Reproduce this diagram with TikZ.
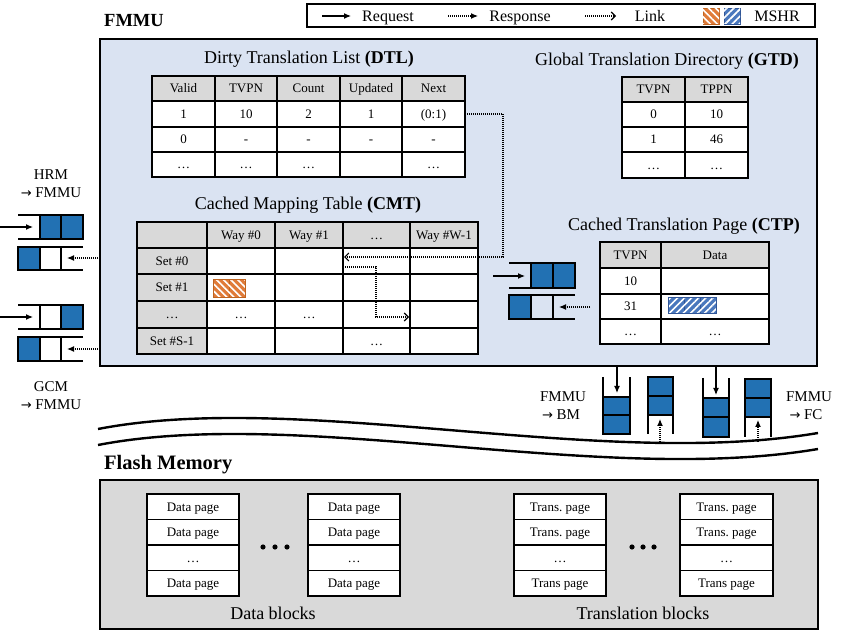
\documentclass[tikz,border=0pt]{standalone}
\usepackage{fontspec}
\setmainfont{Liberation Serif}
\newfontfamily\arrowfont{DejaVu Sans}
\newcommand{\rarr}{{\arrowfont\fontsize{13}{15}\selectfont →}}
\usetikzlibrary{arrows.meta,patterns.meta}
\definecolor{qblue}{HTML}{2271B3}
\definecolor{fmmubg}{HTML}{DAE3F2}
\definecolor{hdrgray}{HTML}{D9D9D9}
\definecolor{mshro}{HTML}{E07B39}
\definecolor{mshroD}{HTML}{C0641F}
\definecolor{mshrb}{HTML}{4A78BD}
\definecolor{mshrbD}{HTML}{2F5597}
\tikzset{
  thinl/.style={line width=1.1pt},
  qline/.style={line width=1.3pt},
  thickl/.style={line width=2.6pt},
  cell/.style={inner sep=0pt, text height=8.6pt, text depth=0pt, font=\fontsize{13}{15}\selectfont},
  ttl/.style={inner sep=0pt, text height=12pt, text depth=0pt, font=\fontsize{18}{20}\selectfont},
  lgd/.style={inner sep=0pt, text height=10.6pt, text depth=0pt, font=\fontsize{16}{18}\selectfont},
  qlbl/.style={inner sep=0pt, text height=10pt, text depth=0pt, font=\fontsize{15}{17}\selectfont},
  bigttl/.style={inner sep=0pt, text height=13pt, text depth=0pt, anchor=west, font=\fontsize{#1}{22}\selectfont\bfseries},
  req/.style={line width=1.1pt, -{Latex[length=7pt,width=6pt]}},
  resp/.style={line width=1.1pt, dash pattern=on 1pt off 1pt, -{Latex[length=7pt,width=6pt]}},
  lnk/.style={line width=1.1pt, dash pattern=on 1pt off 1pt, -{Straight Barb[length=4pt,width=8pt]}},
  hatcho/.style={fill=mshro, draw=mshroD, line width=0.8pt},
  hatchb/.style={fill=mshrb, draw=mshrbD, line width=0.8pt},
  pato/.style={pattern={Lines[angle=-45,distance=5pt,line width=1.6pt]}, pattern color=white},
  patb/.style={pattern={Lines[angle=45,distance=5pt,line width=1.6pt]}, pattern color=white},
}
\begin{document}
\begin{tikzpicture}[x=1pt,y=-1pt]
\useasboundingbox (0,0) rectangle (855,636);
\fill[white] (0,0) rectangle (855,636);

% ---------------- Legend ----------------
\draw[line width=2pt] (307,4) rectangle (815,27);
\coordinate (l1a) at (322,16); \coordinate (l1b) at (351,16);
\draw[req] (l1a) -- (l1b);
\node[lgd] (lreq) at (388,16) {Request};
\coordinate (l2a) at (448,16); \coordinate (l2b) at (478,16);
\draw[resp] (l2a) -- (l2b);
\node[lgd] (lresp) at (520,16) {Response};
\coordinate (l3a) at (585,16); \coordinate (l3b) at (616,16);
\draw[lnk] (l3a) -- (l3b);
\node[lgd] (llink) at (650,16) {Link};
\filldraw[hatcho] (703,8) rectangle (719,24);
\path[pato] (703,8) rectangle (719,24);
\filldraw[hatchb] (724,8) rectangle (740,24);
\path[patb] (724,8) rectangle (740,24);
\node[lgd] (lmshr) at (777,16) {MSHR};

% ---------------- FMMU ----------------
\node[bigttl=18.5] (fmmuttl) at (104,20) {FMMU};
\filldraw[fill=fmmubg, line width=2.6pt] (100,39) rectangle (817,366);

% DTL
\node[ttl] (dtlttl) at (309,58) {Dirty Translation List \textbf{(DTL)}};
\fill[white] (152,76) rectangle (465,177);
\fill[hdrgray] (152,76) rectangle (465,101);
\foreach \x in {215,277,340,402} \draw[thinl] (\x,76) -- (\x,177);
\foreach \y in {101,127,152} \draw[thinl] (152,\y) -- (465,\y);
\draw[thickl] (152,76) rectangle (465,177);
\node[cell] (dtl-h1) at (183.5,88.5) {Valid};
\node[cell] (dtl-h2) at (246,88.5) {TVPN};
\node[cell] (dtl-h3) at (308.5,88.5) {Count};
\node[cell] (dtl-h4) at (371,88.5) {Updated};
\node[cell] (dtl-h5) at (433.5,88.5) {Next};
\node[cell] (dtl-11) at (183.5,114) {1};
\node[cell] (dtl-12) at (246,114) {10};
\node[cell] (dtl-13) at (308.5,114) {2};
\node[cell] (dtl-14) at (371,114) {1};
\node[cell] (dtl-15) at (433.5,114) {(0:1)};
\node[cell] (dtl-21) at (183.5,139.5) {0};
\node[cell] (dtl-22) at (246,139.5) {-};
\node[cell] (dtl-23) at (308.5,139.5) {-};
\node[cell] (dtl-24) at (371,139.5) {-};
\node[cell] (dtl-25) at (433.5,139.5) {-};
\node[cell] (dtl-31) at (183.5,164.5) {…};
\node[cell] (dtl-32) at (246,164.5) {…};
\node[cell] (dtl-33) at (308.5,164.5) {…};
\node[cell] (dtl-35) at (433.5,164.5) {…};
\coordinate (dtlnext) at (465,114);

% GTD
\node[ttl] (gtdttl) at (667,60) {Global Translation Directory \textbf{(GTD)}};
\fill[white] (622,77) rectangle (748,178);
\fill[hdrgray] (622,77) rectangle (748,102);
\draw[thinl] (685,77) -- (685,178);
\foreach \y in {102,127,152} \draw[thinl] (622,\y) -- (748,\y);
\draw[thickl] (622,77) rectangle (748,178);
\node[cell] (gtd-h1) at (653.5,89.5) {TVPN};
\node[cell] (gtd-h2) at (716.5,89.5) {TPPN};
\node[cell] (gtd-11) at (653.5,114.5) {0};
\node[cell] (gtd-12) at (716.5,114.5) {10};
\node[cell] (gtd-21) at (653.5,139.5) {1};
\node[cell] (gtd-22) at (716.5,139.5) {46};
\node[cell] (gtd-31) at (653.5,165) {…};
\node[cell] (gtd-32) at (716.5,165) {…};

% CMT
\node[ttl] (cmtttl) at (308,204) {Cached Mapping Table \textbf{(CMT)}};
\fill[white] (137,222) rectangle (478,354);
\fill[hdrgray] (137,222) rectangle (478,248);
\fill[hdrgray] (137,222) rectangle (207,354);
\foreach \x in {207,275,343,410} \draw[thinl] (\x,222) -- (\x,354);
\foreach \y in {248,274,301,328} \draw[thinl] (137,\y) -- (478,\y);
\draw[thickl] (137,222) rectangle (478,354);
\node[cell] (cmt-h1) at (241,235) {Way \#0};
\node[cell] (cmt-h2) at (309,235) {Way \#1};
\node[cell] (cmt-h3) at (376.5,235) {…};
\node[cell] (cmt-h4) at (444,235) {Way \#W-1};
\node[cell] (cmt-s0) at (172,261) {Set \#0};
\node[cell] (cmt-s1) at (172,287.5) {Set \#1};
\node[cell] (cmt-s2) at (172,314.5) {…};
\node[cell] (cmt-s3) at (172,341) {Set \#S-1};
\node[cell] (cmt-21) at (241,314.5) {…};
\node[cell] (cmt-22) at (309,314.5) {…};
\node[cell] (cmt-33) at (376.5,341) {…};
% orange MSHR
\filldraw[hatcho] (213,279) rectangle (229,297);
\path[pato] (213,279) rectangle (229,297);
\filldraw[hatcho] (229,279) rectangle (245,297);
\path[pato] (229,279) rectangle (245,297);
\draw[mshroD, line width=0.8pt] (213,279) rectangle (245,297);

% CMT internal link
\coordinate (cmtA) at (343,267);
\coordinate (cmtB) at (409,317);
\draw[lnk] (cmtA) -- (376,267) -- (376,317) -- (cmtB);

% DTL -> CMT link
\coordinate (cmtC) at (344,257);
\draw[lnk] (dtlnext) -- (503,114) -- (503,257) -- (cmtC);

% CTP
\node[ttl] (ctpttl) at (684,225) {Cached Translation Page \textbf{(CTP)}};
\fill[white] (600,242) rectangle (769,344);
\fill[hdrgray] (600,242) rectangle (769,268);
\draw[thinl] (661,242) -- (661,344);
\foreach \y in {268,294,319} \draw[thinl] (600,\y) -- (769,\y);
\draw[thickl] (600,242) rectangle (769,344);
\node[cell] (ctp-h1) at (630.5,255) {TVPN};
\node[cell] (ctp-h2) at (715,255) {Data};
\node[cell] (ctp-11) at (630.5,281) {10};
\node[cell] (ctp-21) at (630.5,306.5) {31};
\node[cell] (ctp-31) at (630.5,331.5) {…};
\node[cell] (ctp-32) at (715,331.5) {…};
\foreach \x in {668,684,700} {
  \filldraw[hatchb] (\x,297) rectangle (\x+16,313);
  \path[patb] (\x,297) rectangle (\x+16,313);
}
\draw[mshrbD, line width=0.8pt] (668,297) rectangle (716,313);

% CTP queues
\fill[qblue] (531,263) rectangle (575,288);
\draw[qline] (509,263) -- (575,263) -- (575,288) -- (509,288);
\draw[qline] (531,263) -- (531,288) (553,263) -- (553,288);
\coordinate (cq1a) at (493,276); \coordinate (cq1b) at (525,276);
\draw[req] (cq1a) -- (cq1b);
\fill[qblue] (509,295) rectangle (531,319);
\draw[qline] (575,295) -- (509,295) -- (509,319) -- (575,319);
\draw[qline] (531,295) -- (531,319) (553,295) -- (553,319);
\coordinate (cq2a) at (590,307); \coordinate (cq2b) at (559,307);
\draw[resp] (cq2a) -- (cq2b);

% ---------------- Left queues ----------------
\node[qlbl] (hrm1) at (51,175) {HRM};
\node[qlbl] (hrm2) at (51,193) {\rarr\ FMMU};
\fill[qblue] (40,215) rectangle (83,239);
\draw[qline] (18,215) -- (83,215) -- (83,239) -- (18,239);
\draw[qline] (40,215) -- (40,239) (61,215) -- (61,239);
\coordinate (hq1a) at (0,227); \coordinate (hq1b) at (33,227);
\draw[req] (hq1a) -- (hq1b);
\fill[qblue] (18,247) rectangle (40,270);
\draw[qline] (83,247) -- (18,247) -- (18,270) -- (83,270);
\draw[qline] (40,247) -- (40,270) (61,247) -- (61,270);
\coordinate (hq2a) at (100,258); \coordinate (hq2b) at (67,258);
\draw[resp] (hq2a) -- (hq2b);

\fill[qblue] (61,305) rectangle (83,329);
\draw[qline] (18,305) -- (83,305) -- (83,329) -- (18,329);
\draw[qline] (40,305) -- (40,329) (61,305) -- (61,329);
\coordinate (gq1a) at (0,317); \coordinate (gq1b) at (33,317);
\draw[req] (gq1a) -- (gq1b);
\fill[qblue] (18,337) rectangle (40,361);
\draw[qline] (83,337) -- (18,337) -- (18,361) -- (83,361);
\draw[qline] (40,337) -- (40,361) (61,337) -- (61,361);
\coordinate (gq2a) at (100,349); \coordinate (gq2b) at (67,349);
\draw[resp] (gq2a) -- (gq2b);
\node[qlbl] (gcm1) at (51,387) {GCM};
\node[qlbl] (gcm2) at (51,405) {\rarr\ FMMU};

% ---------------- Bottom-right queues ----------------
\node[qlbl] (bm1) at (563,397) {FMMU};
\node[qlbl] (bm2) at (561,415) {\rarr\ BM};
\node[qlbl] (fc1) at (809,397) {FMMU};
\node[qlbl] (fc2) at (806,415) {\rarr\ FC};

\fill[qblue] (603,397) rectangle (630,434);
\draw[qline] (603,377) -- (603,434) -- (630,434) -- (630,377);
\draw[qline] (603,397) -- (630,397) (603,415) -- (630,415);
\coordinate (vq1a) at (617,367); \coordinate (vq1b) at (617,393);
\draw[req] (vq1a) -- (vq1b);

\fill[qblue] (648,377) rectangle (673,415);
\draw[qline] (648,434) -- (648,377) -- (673,377) -- (673,434);
\draw[qline] (648,396) -- (673,396) (648,415) -- (673,415);
\coordinate (vq2a) at (660,442); \coordinate (vq2b) at (660,419);
\draw[resp] (vq2a) -- (vq2b);

\fill[qblue] (703,398) rectangle (729,437);
\draw[qline] (703,378) -- (703,437) -- (729,437) -- (729,378);
\draw[qline] (703,398) -- (729,398) (703,417) -- (729,417);
\coordinate (vq3a) at (716,367); \coordinate (vq3b) at (716,395);
\draw[req] (vq3a) -- (vq3b);

\fill[qblue] (745,379) rectangle (771,417);
\draw[qline] (745,437) -- (745,379) -- (771,379) -- (771,437);
\draw[qline] (745,398) -- (771,398) (745,417) -- (771,417);
\coordinate (vq4a) at (758,442); \coordinate (vq4b) at (758,420);
\draw[resp] (vq4a) -- (vq4b);

% ---------------- Wavy separator ----------------
\draw[line width=2.4pt] (98,429) .. controls (300,390) and (600,470) .. (818,433);
\draw[line width=2.4pt] (98,445) .. controls (300,406) and (600,486) .. (818,449);

% ---------------- Flash Memory ----------------
\node[bigttl=20.5] (flashttl) at (104,463) {Flash Memory};
\filldraw[fill=hdrgray, line width=2.4pt] (100,480) rectangle (818,629);

\foreach \bx/\bw/\name in {147/239/d1, 308/400/d2} {
  \fill[white] (\bx,494) rectangle (\bw,596);
  \foreach \y in {519.5,545,570.5} \draw[thinl] (\bx,\y) -- (\bw,\y);
  \draw[line width=2.8pt] (\bx,494) rectangle (\bw,596);
  \node[cell] (\name-1) at ({(\bx+\bw)/2},507) {Data page};
  \node[cell] (\name-2) at ({(\bx+\bw)/2},532.5) {Data page};
  \node[cell] (\name-3) at ({(\bx+\bw)/2},558) {…};
  \node[cell] (\name-4) at ({(\bx+\bw)/2},583.5) {Data page};
}
\foreach \bx/\bw/\name in {514/606/t1, 680/773/t2} {
  \fill[white] (\bx,494) rectangle (\bw,596);
  \foreach \y in {519.5,545,570.5} \draw[thinl] (\bx,\y) -- (\bw,\y);
  \draw[line width=2.8pt] (\bx,494) rectangle (\bw,596);
  \node[cell] (\name-1) at ({(\bx+\bw)/2},507) {Trans.\ page};
  \node[cell] (\name-2) at ({(\bx+\bw)/2},532.5) {Trans.\ page};
  \node[cell] (\name-3) at ({(\bx+\bw)/2},558) {…};
  \node[cell] (\name-4) at ({(\bx+\bw)/2},583.5) {Trans page};
}
\foreach \x in {263,275,287} \fill (\x,547) circle (2.6);
\foreach \x in {632,643,654} \fill (\x,547) circle (2.6);
\node[ttl] (dblk) at (273,613) {Data blocks};
\node[ttl] (tblk) at (643,613) {Translation blocks};
\end{tikzpicture}
\end{document}
